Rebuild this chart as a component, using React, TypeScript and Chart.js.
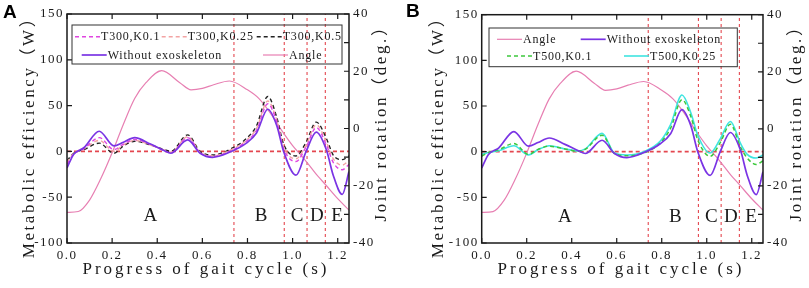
import React, { useEffect, useRef } from "react";
import { Chart, registerables } from "chart.js";

Chart.register(...registerables);

// ---------- data ----------
const timeS = [0, 0.03, 0.075, 0.143, 0.208, 0.25, 0.3, 0.37, 0.43, 0.46, 0.535, 0.59, 0.645, 0.72, 0.795, 0.84, 0.89, 0.93, 0.96, 1.015, 1.06, 1.105, 1.15, 1.18, 1.22, 1.25];
const withoutExo = [-18, -3, 4, 22, 6, 10, 15, 8, 1, -2, 12.5, -2, -6.5, -1, 9, 20, 46, 28, 0, -26, 0, 21, 1.5, -26, -47, -22];
const t300k01 = [-14, -3, 3, 15, 2, 8, 13, 7.5, 1, -1.5, 15, -1.5, -5.5, 0, 11, 23, 52, 32, 3, -11, 5, 26, 7, -12, -20, -14];
const t300k025 = [-12, -2, 3, 12, 0, 7, 12, 7, 1.5, -1, 16, -1, -5, 1, 12, 25, 55, 34, 5, -8, 7, 29, 10, -8, -15, -10];
const t300k05 = [-10, -2, 2, 9, -2, 6, 11, 7, 2, 0, 18, 0, -4, 2, 14, 28, 60, 37, 8, -5, 10, 32, 14, -4, -9, -5];
const t500k01 = [-5, -1, 2, 9, -3, 2.5, 6, 3, 0.5, 2.5, 18, -2, -4.5, -1.5, 10, 26, 57, 38, 13, -5, 10, 30, 5, -7, -14, -10];
const t500k025 = [-3, -1, 1, 6.5, -3.5, 2, 6.5, 3, 0.8, 3, 20, -1.5, -3.6, 0, 12, 30, 62, 42, 18, -1.5, 14, 33, 9, -3, -7, -3.5];

const angleTimeS = [0, 0.05, 0.1, 0.15, 0.2, 0.25, 0.3, 0.35, 0.42, 0.5, 0.55, 0.6, 0.65, 0.72, 0.8, 0.85, 0.9, 0.95, 1.0, 1.05, 1.1, 1.15, 1.2, 1.25];
const angleDeg = [-29.3, -29, -25, -17.5, -8.5, 1.5, 10.5, 16, 20.2, 16, 13.5, 14, 15.3, 16.6, 13.5, 10.5, 5.5, -0.5, -6, -10.5, -15.5, -20, -24.5, -28.5];

const phaseBoundsS = [0.74, 0.963, 1.064, 1.145];
const phaseLabels = ["A", "B", "C", "D", "E"];
const phaseLabelTimeS = [0.37, 0.86, 1.02, 1.107, 1.197];
const phaseLabelValue = -71;

const xRange = [0, 1.25];
const leftRange = [-100, 150];
const rightRange = [-40, 40];

const xTitle = "Progress of gait cycle (s)";
const leftTitle = "Metabolic efficiency（W）";
const rightTitle = "Joint rotation（deg.）";

// ---------- styling ----------
const SERIF = "'Liberation Serif', 'Noto Sans CJK SC', serif";
const SANS = "'Liberation Sans', Arial, sans-serif";
const RED = "#e4474f";
const INK = "#1a1a1a";

type Series = { label: string; x: number[]; y: number[]; color: string; dash: number[]; width: number; axis: string };
type LegendItem = { label: string; color: string; dash: number[]; width: number; dx: number; row: number };
type Panel = {
  letter: string;
  letterPos: [number, number];
  width: number;
  leftAxisW: number;
  rightAxisW: number;
  top: number;
  leftTitlePos: [number, number];
  rightTitlePos: [number, number];
  bottomTitlePos: [number, number];
  series: Series[];
  legendBox: [number, number, number, number];
  legendRows: [number, number];
  legendItems: LegendItem[];
};

const sAngle: Series = { label: "Angle", x: angleTimeS, y: angleDeg, color: "#e77fb2", dash: [], width: 1.2, axis: "y2" };
const sWithout: Series = { label: "Without exoskeleton", x: timeS, y: withoutExo, color: "#7a34e4", dash: [], width: 1.7, axis: "y" };
const s300a: Series = { label: "T300,K0.1", x: timeS, y: t300k01, color: "#e045e0", dash: [4, 3], width: 1.4, axis: "y" };
const s300b: Series = { label: "T300,K0.25", x: timeS, y: t300k025, color: "#f3a3a3", dash: [4, 3], width: 1.4, axis: "y" };
const s300c: Series = { label: "T300,K0.5", x: timeS, y: t300k05, color: "#222222", dash: [4, 3], width: 1.4, axis: "y" };
const s500a: Series = { label: "T500,K0.1", x: timeS, y: t500k01, color: "#3cc83c", dash: [4, 3], width: 1.5, axis: "y" };
const s500b: Series = { label: "T500,K0.25", x: timeS, y: t500k025, color: "#3ee4e0", dash: [], width: 1.6, axis: "y" };

const li = (s: Series, dx: number, row: number): LegendItem => ({ label: s.label, color: s.color, dash: s.dash, width: s.width, dx, row });

const panelA: Panel = {
  letter: "A",
  letterPos: [3, 18],
  width: 404,
  leftAxisW: 67,
  rightAxisW: 55,
  top: 14,
  leftTitlePos: [29.5, 133],
  rightTitlePos: [381.5, 119],
  bottomTitlePos: [206, 270],
  series: [sWithout, s300a, s300b, s300c, sAngle],
  legendBox: [5, 275, 11, 50],
  legendRows: [22.7, 41],
  legendItems: [li(s300a, 8, 0), li(s300b, 94.7, 0), li(s300c, 189.7, 0), li(sWithout, 14.7, 1), li(sAngle, 196, 1)],
};

const panelB: Panel = {
  letter: "B",
  letterPos: [2, 17],
  width: 405,
  leftAxisW: 77.7,
  rightAxisW: 46,
  top: 14.7,
  leftTitlePos: [35, 133],
  rightTitlePos: [392.5, 119],
  bottomTitlePos: [217, 270],
  series: [sWithout, s500a, s500b, sAngle],
  legendBox: [7.3, 255.6, 13.3, 52],
  legendRows: [24.6, 41.3],
  legendItems: [li(sAngle, 15.3, 0), li(sWithout, 99, 0), li(s500a, 25.3, 1), li(s500b, 142.3, 1)],
};

function setSpacing(ctx: any, px: number) {
  if ("letterSpacing" in ctx) ctx.letterSpacing = `${px}px`;
}

function drawRotated(ctx: CanvasRenderingContext2D, text: string, x: number, y: number) {
  ctx.save();
  ctx.translate(x, y);
  ctx.rotate(-Math.PI / 2);
  ctx.fillText(text, 0, 0);
  ctx.restore();
}

function decorPlugin(p: Panel) {
  return {
    id: "decor" + p.letter,
    beforeDraw(chart: any) {
      // wider glyph spacing for the library's tick labels
      setSpacing(chart.ctx, 1.5);
    },
    afterDatasetsDraw(chart: any) {
      const ctx = chart.ctx as CanvasRenderingContext2D;
      const ca = chart.chartArea;
      const xs = chart.scales.x;
      const ys = chart.scales.y;
      const y2 = chart.scales.y2;
      ctx.save();
      // frame
      ctx.setLineDash([]);
      ctx.strokeStyle = INK;
      ctx.lineWidth = 1.5;
      ctx.strokeRect(ca.left, ca.top, ca.right - ca.left, ca.bottom - ca.top);
      // inward ticks
      ctx.lineWidth = 1.2;
      ctx.beginPath();
      xs.ticks.forEach((t: any) => {
        const px = xs.getPixelForValue(t.value);
        ctx.moveTo(px, ca.bottom);
        ctx.lineTo(px, ca.bottom - 5);
        ctx.moveTo(px, ca.top);
        ctx.lineTo(px, ca.top + 5);
      });
      ys.ticks.forEach((t: any) => {
        const py = ys.getPixelForValue(t.value);
        ctx.moveTo(ca.left, py);
        ctx.lineTo(ca.left + 5, py);
      });
      y2.ticks.forEach((t: any) => {
        const py = y2.getPixelForValue(t.value);
        ctx.moveTo(ca.right, py);
        ctx.lineTo(ca.right - 5, py);
      });
      ctx.stroke();
      // phase letters
      ctx.fillStyle = INK;
      setSpacing(ctx, 0);
      ctx.font = `19px ${SERIF}`;
      ctx.textAlign = "center";
      ctx.textBaseline = "middle";
      phaseLabels.forEach((lab, i) => {
        ctx.fillText(lab, xs.getPixelForValue(phaseLabelTimeS[i]), ys.getPixelForValue(phaseLabelValue));
      });
      // legend
      const [bl, br, bt, bb] = p.legendBox;
      ctx.strokeStyle = "#333";
      ctx.lineWidth = 1;
      ctx.strokeRect(ca.left + bl, ca.top + bt, br - bl, bb - bt);
      ctx.font = `12px ${SERIF}`;
      setSpacing(ctx, 0.8);
      ctx.textAlign = "left";
      p.legendItems.forEach((it) => {
        const x0 = ca.left + it.dx;
        const y0 = ca.top + p.legendRows[it.row];
        ctx.setLineDash(it.dash);
        ctx.strokeStyle = it.color;
        ctx.lineWidth = it.width;
        ctx.beginPath();
        ctx.moveTo(x0, y0);
        ctx.lineTo(x0 + 25, y0);
        ctx.stroke();
        ctx.setLineDash([]);
        ctx.fillStyle = INK;
        ctx.fillText(it.label, x0 + 26, y0 + 0.5);
      });
      // axis titles
      ctx.fillStyle = INK;
      ctx.font = `17px ${SERIF}`;
      ctx.textAlign = "center";
      ctx.textBaseline = "middle";
      setSpacing(ctx, 3);
      ctx.fillText(xTitle, p.bottomTitlePos[0], p.bottomTitlePos[1]);
      setSpacing(ctx, 2.6);
      drawRotated(ctx, leftTitle, p.leftTitlePos[0], p.leftTitlePos[1]);
      drawRotated(ctx, rightTitle, p.rightTitlePos[0], p.rightTitlePos[1]);
      // panel letter
      setSpacing(ctx, 0);
      ctx.font = `bold 19px ${SANS}`;
      ctx.textAlign = "left";
      ctx.textBaseline = "alphabetic";
      ctx.fillStyle = "#000";
      ctx.fillText(p.letter, p.letterPos[0], p.letterPos[1]);
      ctx.restore();
    },
  };
}

function buildConfig(p: Panel): any {
  const datasets: any[] = [];
  p.series.forEach((s) => {
    datasets.push({
      label: s.label,
      data: s.x.map((x, i) => ({ x, y: s.y[i] })),
      borderColor: s.color,
      borderWidth: s.width,
      borderDash: s.dash,
      yAxisID: s.axis,
      cubicInterpolationMode: "monotone",
      pointRadius: 0,
      fill: false,
    });
  });
  phaseBoundsS.forEach((b) => {
    datasets.push({
      label: "phase",
      data: [
        { x: b, y: leftRange[0] },
        { x: b, y: leftRange[1] },
      ],
      borderColor: RED,
      borderWidth: 1.1,
      borderDash: [3, 3],
      yAxisID: "y",
      pointRadius: 0,
      fill: false,
    });
  });
  datasets.push({
    label: "zero",
    data: [
      { x: xRange[0], y: 0 },
      { x: xRange[1], y: 0 },
    ],
    borderColor: RED,
    borderWidth: 1.8,
    borderDash: [4, 3],
    yAxisID: "y",
    pointRadius: 0,
    fill: false,
  });

  const tickFont = { family: SERIF, size: 13 };
  return {
    type: "line",
    data: { datasets },
    options: {
      animation: false,
      responsive: false,
      maintainAspectRatio: false,
      devicePixelRatio: 1,
      layout: { padding: { top: p.top, left: 0, right: 0, bottom: 0 } },
      plugins: { legend: { display: false }, tooltip: { enabled: false } },
      elements: { point: { radius: 0 } },
      scales: {
        x: {
          type: "linear",
          min: xRange[0],
          max: xRange[1],
          grid: { display: false, drawTicks: false },
          border: { display: false },
          ticks: {
            stepSize: 0.2,
            includeBounds: false,
            autoSkip: false,
            maxRotation: 0,
            padding: 5,
            color: INK,
            font: tickFont,
            callback: (v: any) => Number(v).toFixed(1),
          },
          title: { display: false, text: xTitle },
          afterFit: (s: any) => {
            s.height = 45;
          },
        },
        y: {
          position: "left",
          min: leftRange[0],
          max: leftRange[1],
          grid: { display: false, drawTicks: false },
          border: { display: false },
          ticks: { stepSize: 50, autoSkip: false, padding: 3, color: INK, font: tickFont },
          title: { display: false, text: leftTitle },
          afterFit: (s: any) => {
            s.width = p.leftAxisW;
          },
        },
        y2: {
          position: "right",
          min: rightRange[0],
          max: rightRange[1],
          grid: { display: false, drawTicks: false },
          border: { display: false },
          ticks: {
            stepSize: 10,
            autoSkip: false,
            padding: 4,
            color: INK,
            font: tickFont,
            callback: (v: any) => (Number(v) % 20 === 0 ? String(v) : ""),
          },
          title: { display: false, text: rightTitle },
          afterFit: (s: any) => {
            s.width = p.rightAxisW;
          },
        },
      },
    },
    plugins: [decorPlugin(p)],
  };
}

function PanelChart({ panel, left }: { panel: Panel; left: number }) {
  const ref = useRef<HTMLCanvasElement | null>(null);
  useEffect(() => {
    if (!ref.current) return;
    const chart = new Chart(ref.current, buildConfig(panel));
    return () => chart.destroy();
  }, [panel]);
  return (
    <canvas
      ref={ref}
      width={panel.width}
      height={288}
      style={{ position: "absolute", left, top: 0, width: panel.width, height: 288, display: "block" }}
    />
  );
}

export default function App() {
  return (
    <div style={{ position: "fixed", left: 0, top: 0, width: 809, height: 288, background: "#fff", overflow: "hidden" }}>
      <PanelChart panel={panelA} left={0} />
      <PanelChart panel={panelB} left={404} />
    </div>
  );
}
